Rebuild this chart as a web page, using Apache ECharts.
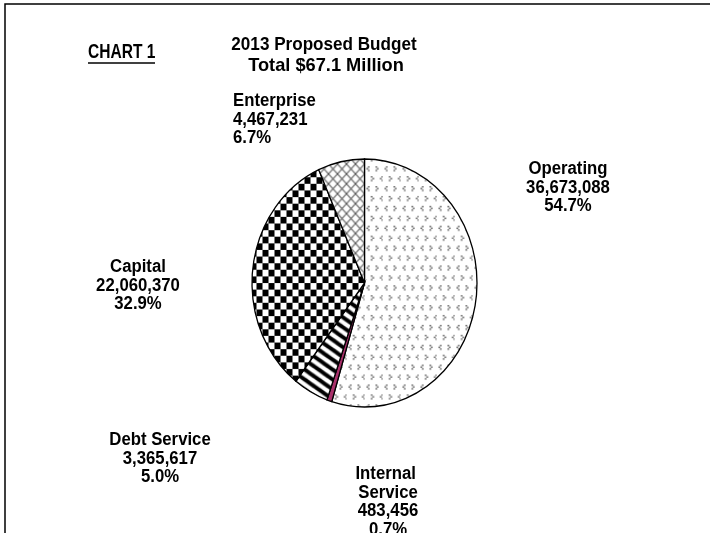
<!DOCTYPE html>
<html>
<head>
<meta charset="utf-8">
<script src="https://cdn.jsdelivr.net/npm/echarts@6/dist/echarts.min.js"></script>
<style>
  html, body { margin: 0; padding: 0; background: #fff; }
  #chart { width: 710px; height: 533px; }
</style>
</head>
<body>
<div id="chart"></div>
<script>
// Budget categories and amounts (dollars), in drawing order clockwise from 12 o'clock
const categories = ['Operating', 'Internal Service', 'Debt Service', 'Capital', 'Enterprise'];
const amounts = [36673088, 483456, 3365617, 22060370, 4467231];
const titleLines = ['2013 Proposed Budget', 'Total $67.1 Million'];
const chartTag = 'CHART 1';

// Pie geometry: the pie is drawn a little taller than it is wide
const PIE = { cx: 364.5, cy: 283, rx: 112.5, ry: 124 };

// Label blocks: anchor point (centre of block vertically), alignment, optional wrap width
const LABEL_AT = {
  'Operating':        { x: 568, y: 188, align: 'center' },
  'Internal Service': { x: 388, y: 502, align: 'center', wrap: 80 },
  'Debt Service':     { x: 160, y: 459, align: 'center' },
  'Capital':          { x: 138, y: 286, align: 'center' },
  'Enterprise':       { x: 233, y: 120, align: 'left' }
};
const FONT = '"Liberation Sans", Arial, sans-serif';
const NARROW = 0.93;   // horizontal squeeze for the condensed bold lettering

// Repeating fill tiles
function tile(w, h, draw) {
  const c = document.createElement('canvas');
  c.width = w; c.height = h;
  const g = c.getContext('2d');
  g.fillStyle = '#fff';
  g.fillRect(0, 0, w, h);
  draw(g, w, h);
  return { image: c, repeat: 'repeat' };
}
// lines of slope +-h/w that wrap seamlessly across the tile
function slant(g, w, h, dir) {
  for (let k = -2; k <= 2; k++) {
    g.beginPath();
    if (dir > 0) { g.moveTo(-w, -h + k * h); g.lineTo(2 * w, 2 * h + k * h); }
    else { g.moveTo(-w, 2 * h + k * h); g.lineTo(2 * w, -h + k * h); }
    g.stroke();
  }
}
// tiny chevron marks
function chev(g, x, y, left) {
  g.fillStyle = '#4a4a4a';
  const s = 1.4;
  if (left) {
    g.fillRect(x + 1.6, y, s, s);
    g.fillRect(x, y + 1.6, s, s);
    g.fillRect(x + 1.6, y + 3.2, s, s);
  } else {
    g.fillRect(x, y, s, s);
    g.fillRect(x + 1.6, y + 1.6, s, s);
    g.fillRect(x, y + 3.2, s, s);
  }
}

const FILLS = [
  // Operating: scattered small chevrons
  tile(18, 18, g => {
    chev(g, 2, 2, true); chev(g, 11, 2, false);
    chev(g, 6.5, 11, false); chev(g, 15.5, 11, true);
  }),
  // Internal Service: solid magenta
  '#a8306a',
  // Debt Service: wide diagonal stripes
  tile(14, 9, (g, w, h) => { g.strokeStyle = '#000'; g.lineWidth = 3.6; slant(g, w, h, 1); }),
  // Capital: checkerboard
  tile(12, 12, g => { g.fillStyle = '#000'; g.fillRect(0, 0, 6, 6); g.fillRect(6, 6, 6, 6); }),
  // Enterprise: diagonal crosshatch
  tile(9, 9, (g, w, h) => { g.strokeStyle = '#5e5e5e'; g.lineWidth = 1.1; slant(g, w, h, 1); slant(g, w, h, -1); })
];

const total = amounts.reduce((a, b) => a + b, 0);
const starts = [];
amounts.reduce((acc, v) => { starts.push(acc); return acc + v; }, 0);

const fmt = v => v.toLocaleString('en-US');
const boldText = (size) => 'bold ' + size + 'px ' + FONT;

const chart = echarts.init(document.getElementById('chart'), null, { renderer: 'canvas' });
chart.setOption({
  animation: false,
  backgroundColor: '#fff',
  graphic: [
    { type: 'rect', silent: true, shape: { x: 5, y: 4, width: 760, height: 600 },
      style: { fill: 'none', stroke: '#000', lineWidth: 1.5 } },
    { type: 'text', silent: true, x: 88, y: 52, scaleX: 0.74,
      style: { text: chartTag, font: boldText(21), fill: '#000', verticalAlign: 'middle', align: 'left' } },
    { type: 'line', silent: true, shape: { x1: 88, y1: 63, x2: 155, y2: 63 },
      style: { stroke: '#000', lineWidth: 1.5 } },
    { type: 'text', silent: true, x: 324, y: 45, scaleX: 0.9,
      style: { text: titleLines[0], font: boldText(19), fill: '#000', align: 'center', verticalAlign: 'middle' } },
    { type: 'text', silent: true, x: 326, y: 66, scaleX: 0.96,
      style: { text: titleLines[1], font: boldText(19), fill: '#000', align: 'center', verticalAlign: 'middle' } }
  ],
  series: [{
    type: 'custom',
    coordinateSystem: 'none',
    silent: true,
    data: amounts.map((v, i) => ({ name: categories[i], value: [v] })),
    renderItem: function (params, api) {
      const i = params.dataIndex;
      const v = api.value(0);
      const a0 = -Math.PI / 2 + starts[i] / total * Math.PI * 2;
      const a1 = a0 + v / total * Math.PI * 2;
      const name = categories[i];
      const pct = (v / total * 100).toFixed(1) + '%';
      const lab = LABEL_AT[name];
      const textStyle = {
        text: name + '\n' + fmt(v) + '\n' + pct,
        fontFamily: FONT, fontSize: 18, fontWeight: 'bold', fill: '#000',
        align: lab.align, verticalAlign: 'middle', lineHeight: 18.5
      };
      if (lab.wrap) { textStyle.width = lab.wrap; textStyle.overflow = 'break'; }
      return {
        type: 'group',
        children: [
          {
            type: 'group', x: PIE.cx, y: PIE.cy, scaleY: PIE.ry / PIE.rx,
            children: [{
              type: 'sector',
              shape: { cx: 0, cy: 0, r0: 0, r: PIE.rx, startAngle: a0, endAngle: a1, clockwise: true },
              style: { fill: FILLS[i], stroke: '#000', lineWidth: 1.3, strokeNoScale: true }
            }]
          },
          { type: 'text', x: lab.x, y: lab.y, scaleX: NARROW, style: textStyle }
        ]
      };
    }
  }]
});
</script>
</body>
</html>
